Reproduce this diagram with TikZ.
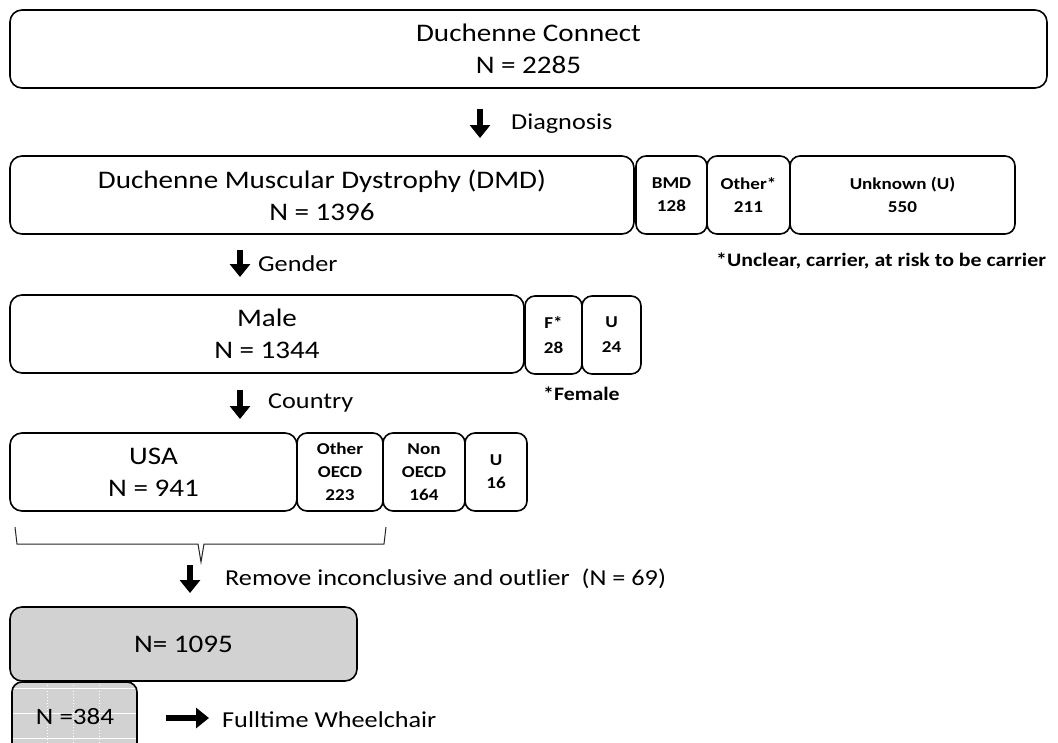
\documentclass[tikz,border=0pt]{standalone}
\usepackage{fontspec}
\setmainfont{Carlito}[FakeStretch=1.15]
\usetikzlibrary{arrows.meta}

\definecolor{boxgray}{HTML}{D2D2D2}

\tikzset{
    box/.style={draw, line width=1.6pt, rounded corners=12pt, align=center, inner sep=0pt,
        minimum height=78pt, font=\fontsize{25.3}{32}\selectfont},
    sbox/.style={draw, line width=1.6pt, rounded corners=10pt, align=center, inner sep=0pt,
        minimum height=78pt, font=\bfseries\fontsize{16.6}{23}\selectfont},
    steplabel/.style={anchor=west, inner sep=0pt, font=\fontsize{22.8}{26}\selectfont},
    notelabel/.style={anchor=west, inner sep=0pt, font=\bfseries\fontsize{19}{22}\selectfont},
    fatarrow/.style={line width=6pt, -{Triangle[width=20pt,length=13pt]}},
}

\begin{document}
\begin{tikzpicture}[x=1pt,y=-1pt]
        \fill[white] (0,0) rectangle (1058,742);
        \useasboundingbox (0,0) rectangle (1058,742);
        % top
        \node[box, minimum width=1037pt] (dc) at (528.5,49) {Duchenne Connect\\N = 2285};
        \coordinate (a1) at (480,109);
        \coordinate (b1) at (480,138);
        \draw[fatarrow] (a1) -- (b1);
        \node[steplabel] (diag) at (511,124) {Diagnosis};
        % diagnosis row
        \node[box, minimum width=624pt] (dmd) at (322,195) {Duchenne Muscular Dystrophy (DMD)\\N = 1396};
        \node[sbox, minimum width=71pt] (bmd) at (671.5,195) {BMD\\128};
        \node[sbox, minimum width=83pt] (oth) at (748.5,195) {Other*\\211};
        \node[sbox, minimum width=225pt] (unk) at (902.5,195) {Unknown (U)\\550};
        \node[notelabel] (note1) at (716,261) {*Unclear, carrier, at risk to be carrier};
        \coordinate (a2) at (240,250);
        \coordinate (b2) at (240,277);
        \draw[fatarrow] (a2) -- (b2);
        \node[steplabel] (gend) at (258,264) {Gender};
        % gender row
        \node[box, minimum width=514pt] (male) at (267,334) {Male\\N = 1344};
        \node[sbox, minimum width=57pt, font=\bfseries\fontsize{16.6}{25}\selectfont] (fem) at (553.5,335) {F*\\28};
        \node[sbox, minimum width=59pt, font=\bfseries\fontsize{16.6}{25}\selectfont] (ug) at (611.5,335) {U\\24};
        \node[notelabel] (note2) at (543,394) {*Female};
        \coordinate (a3) at (240,390);
        \coordinate (b3) at (240,419);
        \draw[fatarrow] (a3) -- (b3);
        \node[steplabel] (ctry) at (268,403) {Country};
        % country row
        \node[box, minimum width=287pt] (usa) at (153.5,472) {USA\\N = 941};
        \node[sbox, minimum width=86pt] (oecd) at (340,472) {Other\\OECD\\223};
        \node[sbox, minimum width=82pt] (noecd) at (424,472) {Non\\OECD\\164};
        \node[sbox, minimum width=62pt] (uc) at (496,472) {U\\16};
        % brace
        \draw[line width=1pt, black!85] (15,527) -- (17,544) -- (198,544) -- (201,562)
            -- (204,544) -- (384,544) -- (386,527);
        \coordinate (a4) at (190,565);
        \coordinate (b4) at (190,593);
        \draw[fatarrow] (a4) -- (b4);
        \node[steplabel] (rem) at (225,579) {Remove inconclusive and outlier~~(N = 69)};
        % result
        \node[box, fill=boxgray, minimum width=347pt, minimum height=74pt] (res) at (183.5,644) {N= 1095};
        \begin{scope}
            \clip[rounded corners=10pt] (12,682) rectangle (137,762);
            \fill[boxgray] (12,682) rectangle (137,762);
            \foreach \yy in {688,713,738}
                \draw[white, line width=1pt] (12,\yy) -- (137,\yy);
            \foreach \xx in {47,73,99}
                \draw[white, line width=1pt, dotted] (\xx,682) -- (\xx,762);
        \end{scope}
        \node[draw, line width=1.6pt, rounded corners=10pt, inner sep=0pt,
            minimum width=125pt, minimum height=80pt] (wc) at (74.5,722) {};
        \node[inner sep=0pt, font=\fontsize{23.5}{30}\selectfont] (n384) at (75,717) {N =384};
        \coordinate (a5) at (166,718);
        \coordinate (b5) at (209,718);
        \draw[fatarrow] (a5) -- (b5);
        \node[steplabel, font=\fontsize{22.8}{30}\selectfont] (ftw) at (222,720) {Fulltime Wheelchair};
    \end{tikzpicture}
\end{document}
